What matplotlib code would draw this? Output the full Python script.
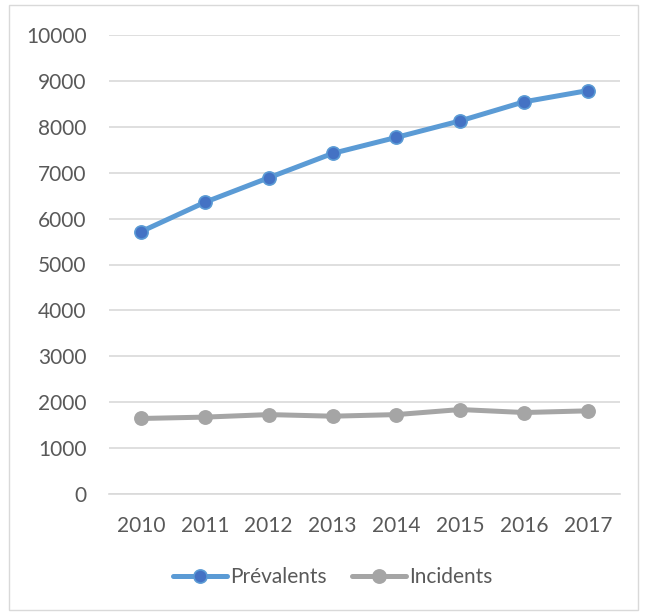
import matplotlib
matplotlib.use("Agg")
import matplotlib.pyplot as plt
from matplotlib.patches import Rectangle

years = ["2010", "2011", "2012", "2013", "2014", "2015", "2016", "2017"]
prevalents = [5715, 6355, 6890, 7420, 7770, 8130, 8545, 8790]
incidents = [1645, 1675, 1730, 1695, 1730, 1840, 1775, 1812]
yticks = [0, 1000, 2000, 3000, 4000, 5000, 6000, 7000, 8000, 9000, 10000]

plt.rcParams['font.family'] = ['Lato', 'DejaVu Sans']

W, H = 646, 613
fig = plt.figure(figsize=(W / 100, H / 100), dpi=100)
fig.patches.append(Rectangle((9 / W, 1 - 610 / H), (638 - 9) / W, (610 - 5) / H,
                             transform=fig.transFigure, fill=False,
                             edgecolor="#D9D9D9", linewidth=1))

left, right = 109 / W, 620 / W
top, bottom = 1 - 35 / H, 1 - 494 / H
ax = fig.add_axes([left, bottom, right - left, top - bottom])

x = list(range(len(years)))
ax.plot(x, prevalents, color="#5B9BD5", linewidth=3.6, marker="o", markersize=9.5,
        markerfacecolor="#4472C4", markeredgecolor="#5B9BD5", markeredgewidth=1.2,
        label="Prévalents", solid_capstyle="round", zorder=3)
ax.plot(x, incidents, color="#A5A5A5", linewidth=3.6, marker="o", markersize=9.5,
        markerfacecolor="#A5A5A5", markeredgecolor="#A5A5A5", markeredgewidth=1.2,
        label="Incidents", solid_capstyle="round", zorder=3)

ax.set_xlim(-0.5, len(years) - 0.5)
ax.set_ylim(0, 10000)
ax.set_yticks(yticks)
ax.set_yticklabels([str(v) for v in yticks])
ax.set_xticks(x)
ax.set_xticklabels(years)
ax.grid(axis="y", color="#D9D9D9", linewidth=1.2)
ax.set_axisbelow(True)
for s in ["top", "right", "left"]:
    ax.spines[s].set_visible(False)
ax.spines["bottom"].set_color("#D9D9D9")
ax.spines["bottom"].set_linewidth(1.2)
ax.tick_params(axis="both", length=0, labelsize=15, colors="#595959")
ax.tick_params(axis="y", pad=16)
ax.tick_params(axis="x", pad=16)

leg = fig.legend(loc="center", bbox_to_anchor=(333 / W, 1 - 577 / H), ncol=2,
                 frameon=False, fontsize=15, handlelength=2.6, columnspacing=1.2,
                 handletextpad=0.15)
for t in leg.get_texts():
    t.set_color("#595959")

fig.savefig("out.png", dpi=100)
